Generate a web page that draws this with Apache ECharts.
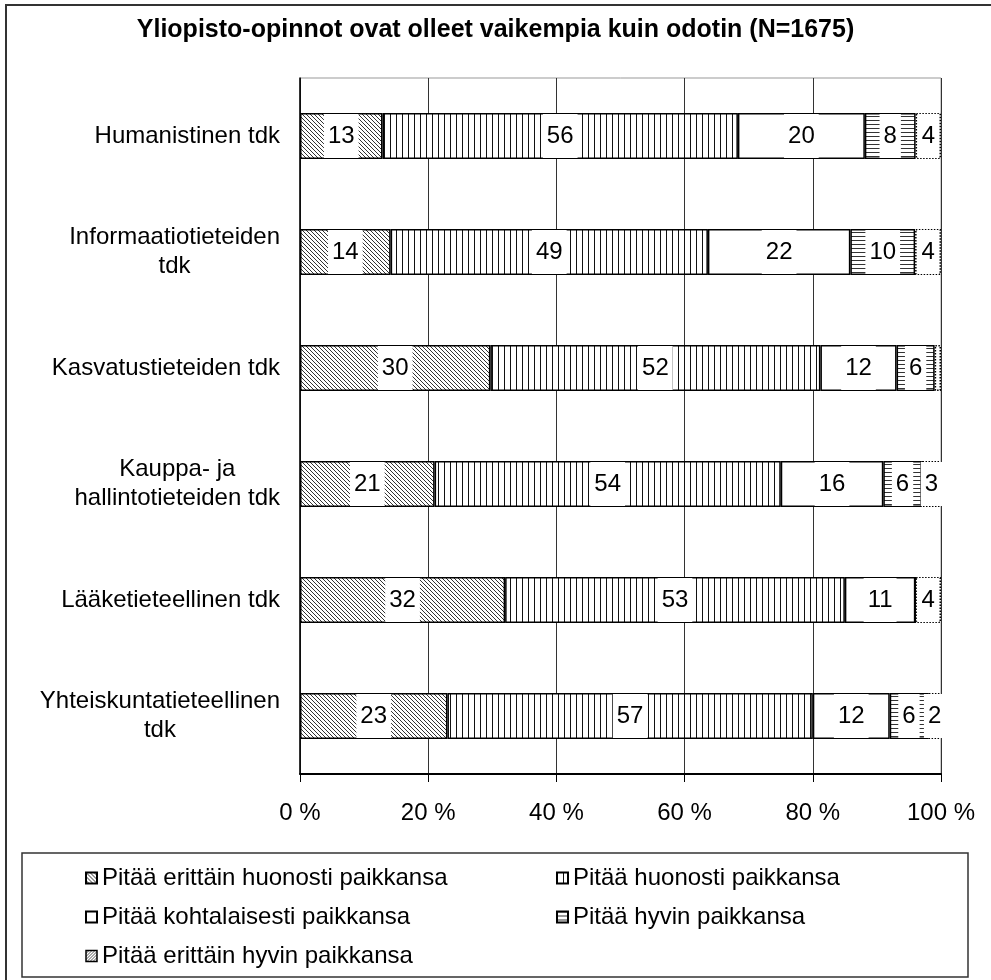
<!DOCTYPE html>
<html>
<head>
<meta charset="utf-8">
<title>Yliopisto-opinnot ovat olleet vaikempia kuin odotin</title>
<script src="https://cdn.jsdelivr.net/npm/echarts@6/dist/echarts.min.js"></script>
<style>
	html, body { margin: 0; padding: 0; background: #fff; }
	#chart { width: 991px; height: 980px; }
</style>
</head>
<body>
<div id="chart"></div>
<script>
(function () {

	var categories = [
		'Humanistinen tdk',
		'Informaatiotieteiden\ntdk',
		'Kasvatustieteiden tdk',
		'Kauppa- ja\nhallintotieteiden tdk',
		'Lääketieteellinen tdk',
		'Yhteiskuntatieteellinen\ntdk'
	];
	var seriesNames = [
		'Pitää erittäin huonosti paikkansa',
		'Pitää huonosti paikkansa',
		'Pitää kohtalaisesti paikkansa',
		'Pitää hyvin paikkansa',
		'Pitää erittäin hyvin paikkansa'
	];
	var erittainHuonosti = [13, 14, 30, 21, 32, 23];
	var huonosti = [56, 49, 52, 54, 53, 57];
	var kohtalaisesti = [20, 22, 12, 16, 11, 12];
	var hyvin = [8, 10, 6, 6, 0, 6];
	var erittainHyvin = [4, 4, 1, 3, 4, 2];

	var FONT = "'Liberation Sans', Arial, sans-serif";
	var values = [erittainHuonosti, huonosti, kohtalaisesti, hyvin, erittainHyvin];

	/**
	 * pieni canvas-kuvio palkin täytöksi
	 */
	function pattern(kind) {
		var c = document.createElement('canvas');
		var w = 4, h = 4, i;
		if (kind === 'vertical') { w = 6; h = 6; }
		if (kind === 'up') { w = 3; h = 3; }
		c.width = w; c.height = h;
		var ctx = c.getContext('2d');
		ctx.fillStyle = '#fff';
		ctx.fillRect(0, 0, w, h);
		if (kind === 'down') {
			ctx.fillStyle = '#333';
			for (i = 0; i < w; i++) ctx.fillRect(i, i, 1, 1);
		} else if (kind === 'up') {
			ctx.fillStyle = '#555';
			for (i = 0; i < w; i++) ctx.fillRect(w - 1 - i, i, 1, 1);
		} else if (kind === 'vertical') {
			ctx.fillStyle = '#111';
			ctx.fillRect(0, 0, 1, h);
		} else if (kind === 'horizontal') {
			ctx.fillStyle = '#333';
			ctx.fillRect(0, 0, w, 1);
		}
		return { image: c, repeat: 'repeat' };
	}

	var fills = [pattern('down'), pattern('vertical'), '#fff', pattern('horizontal'), '#fff'];

	// Excelin 100 % pino: jokainen rivi suhteutetaan omaan summaansa
	var totals = categories.map(function (c, i) {
		return values.reduce(function (s, arr) { return s + arr[i]; }, 0);
	});

	var series = seriesNames.map(function (name, k) {
		return {
			name: name,
			type: 'bar',
			stack: 'all',
			barWidth: 46,
			itemStyle: {
				color: fills[k],
				borderColor: '#000',
				borderWidth: 1.5,
				borderType: k === 4 ? 'dotted' : 'solid'
			},
			label: {
				position: 'inside',
				color: '#000',
				fontFamily: FONT,
				fontSize: 24,
				lineHeight: 24,
				backgroundColor: '#fff',
				padding: [10, 4, 10, 4],
				formatter: function (p) {
					return values[k][p.dataIndex];
				}
			},
			data: values[k].map(function (v, i) {
				return { value: v / totals[i] * 100, label: { show: v >= 2 } };
			})
		};
	});

	// selitteen merkit, viimeinen vinoviivoitettuna kuten alkuperäisessä
	function legendItem(k) {
		var item = { name: seriesNames[k] };
		if (k === 4) {
			item.itemStyle = { color: pattern('up'), borderColor: '#000', borderWidth: 1.5, borderType: 'solid' };
		}
		return item;
	}

	var legendBase = {
		orient: 'vertical',
		top: 861,
		itemWidth: 11,
		itemHeight: 11,
		itemGap: 15,
		icon: 'rect',
		selectedMode: false,
		textStyle: { fontFamily: FONT, fontSize: 24, lineHeight: 24, color: '#000' }
	};

	var option = {
		animation: false,
		backgroundColor: '#fff',
		title: {
			text: 'Yliopisto-opinnot ovat olleet vaikempia kuin odotin (N=1675)',
			left: 'center',
			top: 13,
			textStyle: { fontFamily: FONT, fontSize: 25, fontWeight: 'bold', color: '#000' }
		},
		legend: [
			echarts.util.merge({ left: 80, data: [legendItem(0), legendItem(2), legendItem(4)] }, legendBase),
			echarts.util.merge({ left: 551, data: [legendItem(1), legendItem(3)] }, legendBase)
		],
		grid: {
			left: 300,
			right: 50,
			top: 78,
			bottom: 206,
			show: true,
			borderColor: '#999',
			borderWidth: 1
		},
		xAxis: {
			type: 'value',
			min: 0,
			max: 100,
			interval: 20,
			axisLine: { show: true, lineStyle: { color: '#000', width: 2 } },
			axisTick: { show: true, length: 8, lineStyle: { color: '#000' } },
			splitLine: { lineStyle: { color: '#333', width: 1 } },
			axisLabel: {
				formatter: '{value} %',
				margin: 27,
				fontFamily: FONT,
				fontSize: 24,
				color: '#000'
			}
		},
		yAxis: {
			type: 'category',
			inverse: true,
			data: categories,
			axisLine: { lineStyle: { color: '#000', width: 1.5 } },
			axisTick: { length: 8, lineStyle: { color: '#000' } },
			axisLabel: {
				margin: 20,
				formatter: function (v) {
					return v.split('\n').map(function (l) { return '{c|' + l + '}'; }).join('\n');
				},
				rich: {
					c: { align: 'center', fontFamily: FONT, fontSize: 24, lineHeight: 29, color: '#000' }
				}
			}
		},
		graphic: [
			{
				type: 'rect',
				shape: { x: 6, y: 5, width: 1000, height: 1000 },
				style: { fill: 'none', stroke: '#333', lineWidth: 2 },
				silent: true
			},
			{
				type: 'rect',
				shape: { x: 22, y: 853, width: 946, height: 124 },
				style: { fill: 'none', stroke: '#333', lineWidth: 1.5 },
				silent: true
			}
		],
		series: series
	};

	var myChart = echarts.init(document.getElementById('chart'));
	myChart.setOption(option);

})();
</script>
</body>
</html>
